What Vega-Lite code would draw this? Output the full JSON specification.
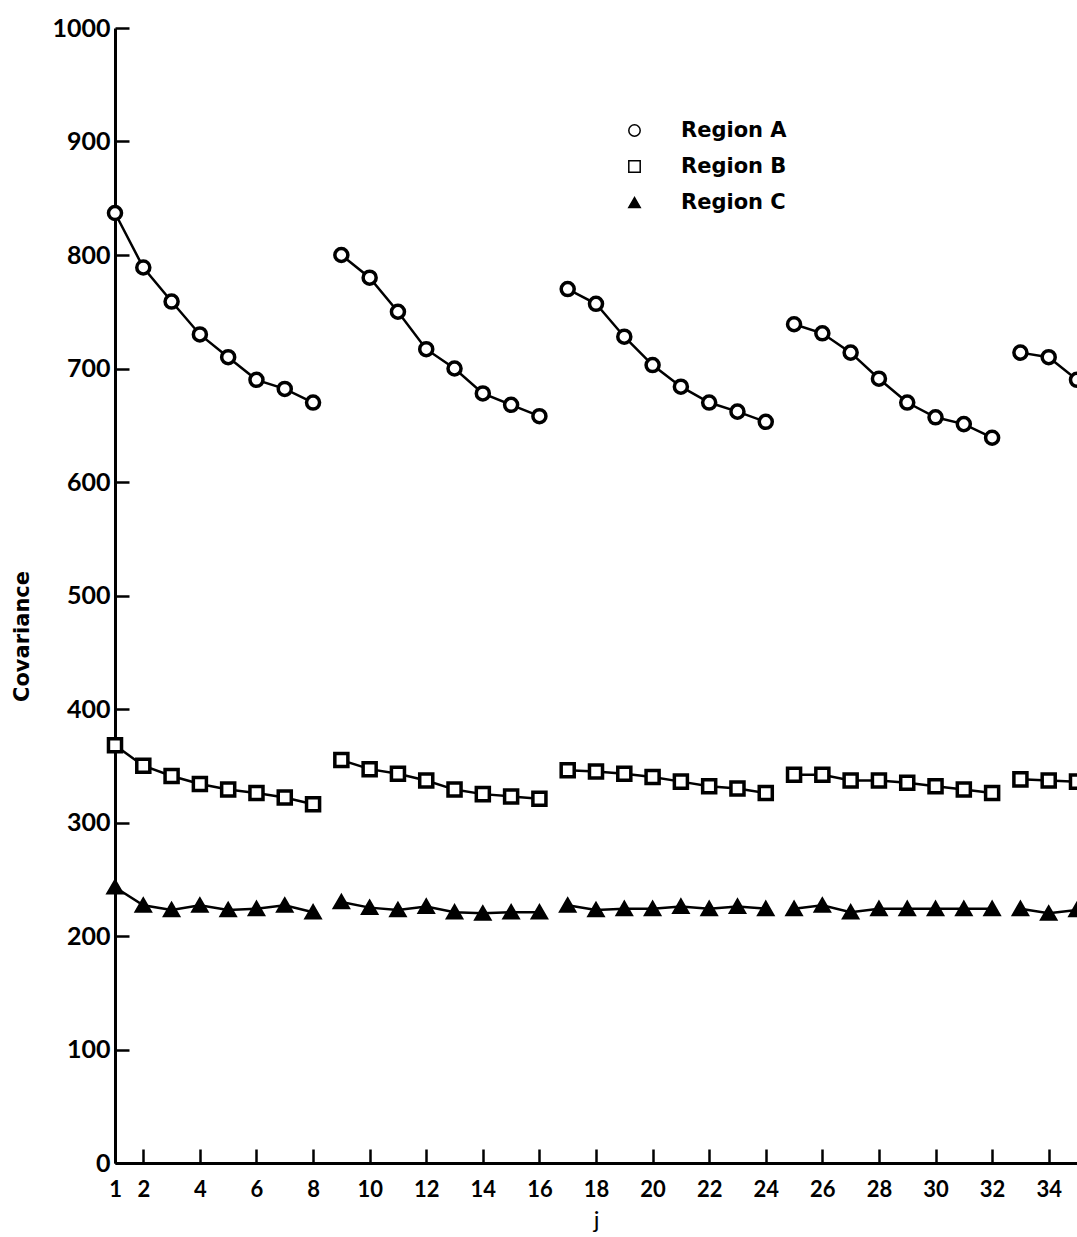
{
  "$schema": "https://vega.github.io/schema/vega-lite/v6.json",
  "autosize": "none",
  "width": 962,
  "height": 1135,
  "padding": {"left": 115, "top": 28, "right": 0, "bottom": 74},
  "background": "white",
  "config": {"view": {"stroke": null}, "font": "Lato"},
  "data": {"values": [
    {"j":1,"cov":837,"region":"Region A","grp":1},{"j":2,"cov":789,"region":"Region A","grp":1},{"j":3,"cov":759,"region":"Region A","grp":1},{"j":4,"cov":730,"region":"Region A","grp":1},{"j":5,"cov":710,"region":"Region A","grp":1},{"j":6,"cov":690,"region":"Region A","grp":1},{"j":7,"cov":682,"region":"Region A","grp":1},{"j":8,"cov":670,"region":"Region A","grp":1},
    {"j":9,"cov":800,"region":"Region A","grp":2},{"j":10,"cov":780,"region":"Region A","grp":2},{"j":11,"cov":750,"region":"Region A","grp":2},{"j":12,"cov":717,"region":"Region A","grp":2},{"j":13,"cov":700,"region":"Region A","grp":2},{"j":14,"cov":678,"region":"Region A","grp":2},{"j":15,"cov":668,"region":"Region A","grp":2},{"j":16,"cov":658,"region":"Region A","grp":2},
    {"j":17,"cov":770,"region":"Region A","grp":3},{"j":18,"cov":757,"region":"Region A","grp":3},{"j":19,"cov":728,"region":"Region A","grp":3},{"j":20,"cov":703,"region":"Region A","grp":3},{"j":21,"cov":684,"region":"Region A","grp":3},{"j":22,"cov":670,"region":"Region A","grp":3},{"j":23,"cov":662,"region":"Region A","grp":3},{"j":24,"cov":653,"region":"Region A","grp":3},
    {"j":25,"cov":739,"region":"Region A","grp":4},{"j":26,"cov":731,"region":"Region A","grp":4},{"j":27,"cov":714,"region":"Region A","grp":4},{"j":28,"cov":691,"region":"Region A","grp":4},{"j":29,"cov":670,"region":"Region A","grp":4},{"j":30,"cov":657,"region":"Region A","grp":4},{"j":31,"cov":651,"region":"Region A","grp":4},{"j":32,"cov":639,"region":"Region A","grp":4},
    {"j":33,"cov":714,"region":"Region A","grp":5},{"j":34,"cov":710,"region":"Region A","grp":5},{"j":35,"cov":690,"region":"Region A","grp":5},
    {"j":1,"cov":368,"region":"Region B","grp":1},{"j":2,"cov":350,"region":"Region B","grp":1},{"j":3,"cov":341,"region":"Region B","grp":1},{"j":4,"cov":334,"region":"Region B","grp":1},{"j":5,"cov":329,"region":"Region B","grp":1},{"j":6,"cov":326,"region":"Region B","grp":1},{"j":7,"cov":322,"region":"Region B","grp":1},{"j":8,"cov":316,"region":"Region B","grp":1},
    {"j":9,"cov":355,"region":"Region B","grp":2},{"j":10,"cov":347,"region":"Region B","grp":2},{"j":11,"cov":343,"region":"Region B","grp":2},{"j":12,"cov":337,"region":"Region B","grp":2},{"j":13,"cov":329,"region":"Region B","grp":2},{"j":14,"cov":325,"region":"Region B","grp":2},{"j":15,"cov":323,"region":"Region B","grp":2},{"j":16,"cov":321,"region":"Region B","grp":2},
    {"j":17,"cov":346,"region":"Region B","grp":3},{"j":18,"cov":345,"region":"Region B","grp":3},{"j":19,"cov":343,"region":"Region B","grp":3},{"j":20,"cov":340,"region":"Region B","grp":3},{"j":21,"cov":336,"region":"Region B","grp":3},{"j":22,"cov":332,"region":"Region B","grp":3},{"j":23,"cov":330,"region":"Region B","grp":3},{"j":24,"cov":326,"region":"Region B","grp":3},
    {"j":25,"cov":342,"region":"Region B","grp":4},{"j":26,"cov":342,"region":"Region B","grp":4},{"j":27,"cov":337,"region":"Region B","grp":4},{"j":28,"cov":337,"region":"Region B","grp":4},{"j":29,"cov":335,"region":"Region B","grp":4},{"j":30,"cov":332,"region":"Region B","grp":4},{"j":31,"cov":329,"region":"Region B","grp":4},{"j":32,"cov":326,"region":"Region B","grp":4},
    {"j":33,"cov":338,"region":"Region B","grp":5},{"j":34,"cov":337,"region":"Region B","grp":5},{"j":35,"cov":336,"region":"Region B","grp":5},
    {"j":1,"cov":243,"region":"Region C","grp":1},{"j":2,"cov":227,"region":"Region C","grp":1},{"j":3,"cov":223,"region":"Region C","grp":1},{"j":4,"cov":227,"region":"Region C","grp":1},{"j":5,"cov":223,"region":"Region C","grp":1},{"j":6,"cov":224,"region":"Region C","grp":1},{"j":7,"cov":227,"region":"Region C","grp":1},{"j":8,"cov":221,"region":"Region C","grp":1},
    {"j":9,"cov":230,"region":"Region C","grp":2},{"j":10,"cov":225,"region":"Region C","grp":2},{"j":11,"cov":223,"region":"Region C","grp":2},{"j":12,"cov":226,"region":"Region C","grp":2},{"j":13,"cov":221,"region":"Region C","grp":2},{"j":14,"cov":220,"region":"Region C","grp":2},{"j":15,"cov":221,"region":"Region C","grp":2},{"j":16,"cov":221,"region":"Region C","grp":2},
    {"j":17,"cov":227,"region":"Region C","grp":3},{"j":18,"cov":223,"region":"Region C","grp":3},{"j":19,"cov":224,"region":"Region C","grp":3},{"j":20,"cov":224,"region":"Region C","grp":3},{"j":21,"cov":226,"region":"Region C","grp":3},{"j":22,"cov":224,"region":"Region C","grp":3},{"j":23,"cov":226,"region":"Region C","grp":3},{"j":24,"cov":224,"region":"Region C","grp":3},
    {"j":25,"cov":224,"region":"Region C","grp":4},{"j":26,"cov":227,"region":"Region C","grp":4},{"j":27,"cov":221,"region":"Region C","grp":4},{"j":28,"cov":224,"region":"Region C","grp":4},{"j":29,"cov":224,"region":"Region C","grp":4},{"j":30,"cov":224,"region":"Region C","grp":4},{"j":31,"cov":224,"region":"Region C","grp":4},{"j":32,"cov":224,"region":"Region C","grp":4},
    {"j":33,"cov":224,"region":"Region C","grp":5},{"j":34,"cov":220,"region":"Region C","grp":5},{"j":35,"cov":223,"region":"Region C","grp":5}
  ]},
  "encoding": {
    "x": {"field": "j", "type": "quantitative",
      "scale": {"domain": [1, 35], "nice": false, "zero": false},
      "axis": {"values": [1,2,4,6,8,10,12,14,16,18,20,22,24,26,28,30,32,34], "format": "d", "title": "j", "grid": false,
        "tickSize": -14, "tickWidth": 2.5, "tickColor": "black", "domainWidth": 3, "domainColor": "black",
        "labelFontSize": 22, "labelFontWeight": "bold", "labelColor": "black", "labelPadding": 30,
        "labelFlush": false, "labelOverlap": false,
        "titleFontSize": 24, "titleFontWeight": "normal", "titleColor": "black", "titlePadding": 8}},
    "y": {"field": "cov", "type": "quantitative",
      "scale": {"domain": [0, 1000], "nice": false},
      "axis": {"values": [0,100,200,300,400,500,600,700,800,900,1000], "format": "d", "title": "Covariance", "grid": false,
        "tickSize": -14, "tickWidth": 2.5, "tickColor": "black", "domainWidth": 3, "domainColor": "black",
        "labelFontSize": 25, "labelFontWeight": "bold", "labelColor": "black", "labelPadding": 19,
        "labelFlush": false, "labelOverlap": false,
        "titleFont": "DejaVu Sans", "titleFontSize": 21, "titleFontWeight": "bold", "titleColor": "black",
        "titleX": -83, "titleY": 608, "titleAngle": 270, "titleAlign": "center", "titleBaseline": "bottom"}}
  },
  "layer": [
    {"mark": {"type": "line", "color": "black", "strokeWidth": 2.5},
     "encoding": {"detail": [{"field": "region"}, {"field": "grp"}]}},
    {"mark": {"type": "point", "stroke": "black", "strokeWidth": 3.5, "opacity": 1, "fillOpacity": 1, "size": 170},
     "encoding": {
       "shape": {"field": "region", "type": "nominal",
         "scale": {"domain": ["Region A", "Region B", "Region C"], "range": ["circle", "square", "triangle-up"]},
         "legend": {"title": null, "orient": "none", "legendX": 509, "legendY": 92,
           "labelFont": "DejaVu Sans", "labelFontSize": 21, "labelFontWeight": "bold", "labelColor": "black", "labelOffset": 36,
           "rowPadding": 14, "symbolSize": 130,
           "encode": {"symbols": {"update": {"stroke": {"value": "black"}, "strokeWidth": {"value": 3}, "opacity": {"value": 1}}}}}},
       "fill": {"field": "region", "type": "nominal",
         "scale": {"domain": ["Region A", "Region B", "Region C"], "range": ["white", "white", "black"]},
         "legend": {"title": null, "orient": "none", "legendX": 509, "legendY": 92,
           "labelFont": "DejaVu Sans", "labelFontSize": 21, "labelFontWeight": "bold", "labelColor": "black", "labelOffset": 36,
           "rowPadding": 14, "symbolSize": 130,
           "encode": {"symbols": {"update": {"stroke": {"value": "black"}, "strokeWidth": {"value": 3}, "opacity": {"value": 1}}}}}}
     }}
  ]
}
